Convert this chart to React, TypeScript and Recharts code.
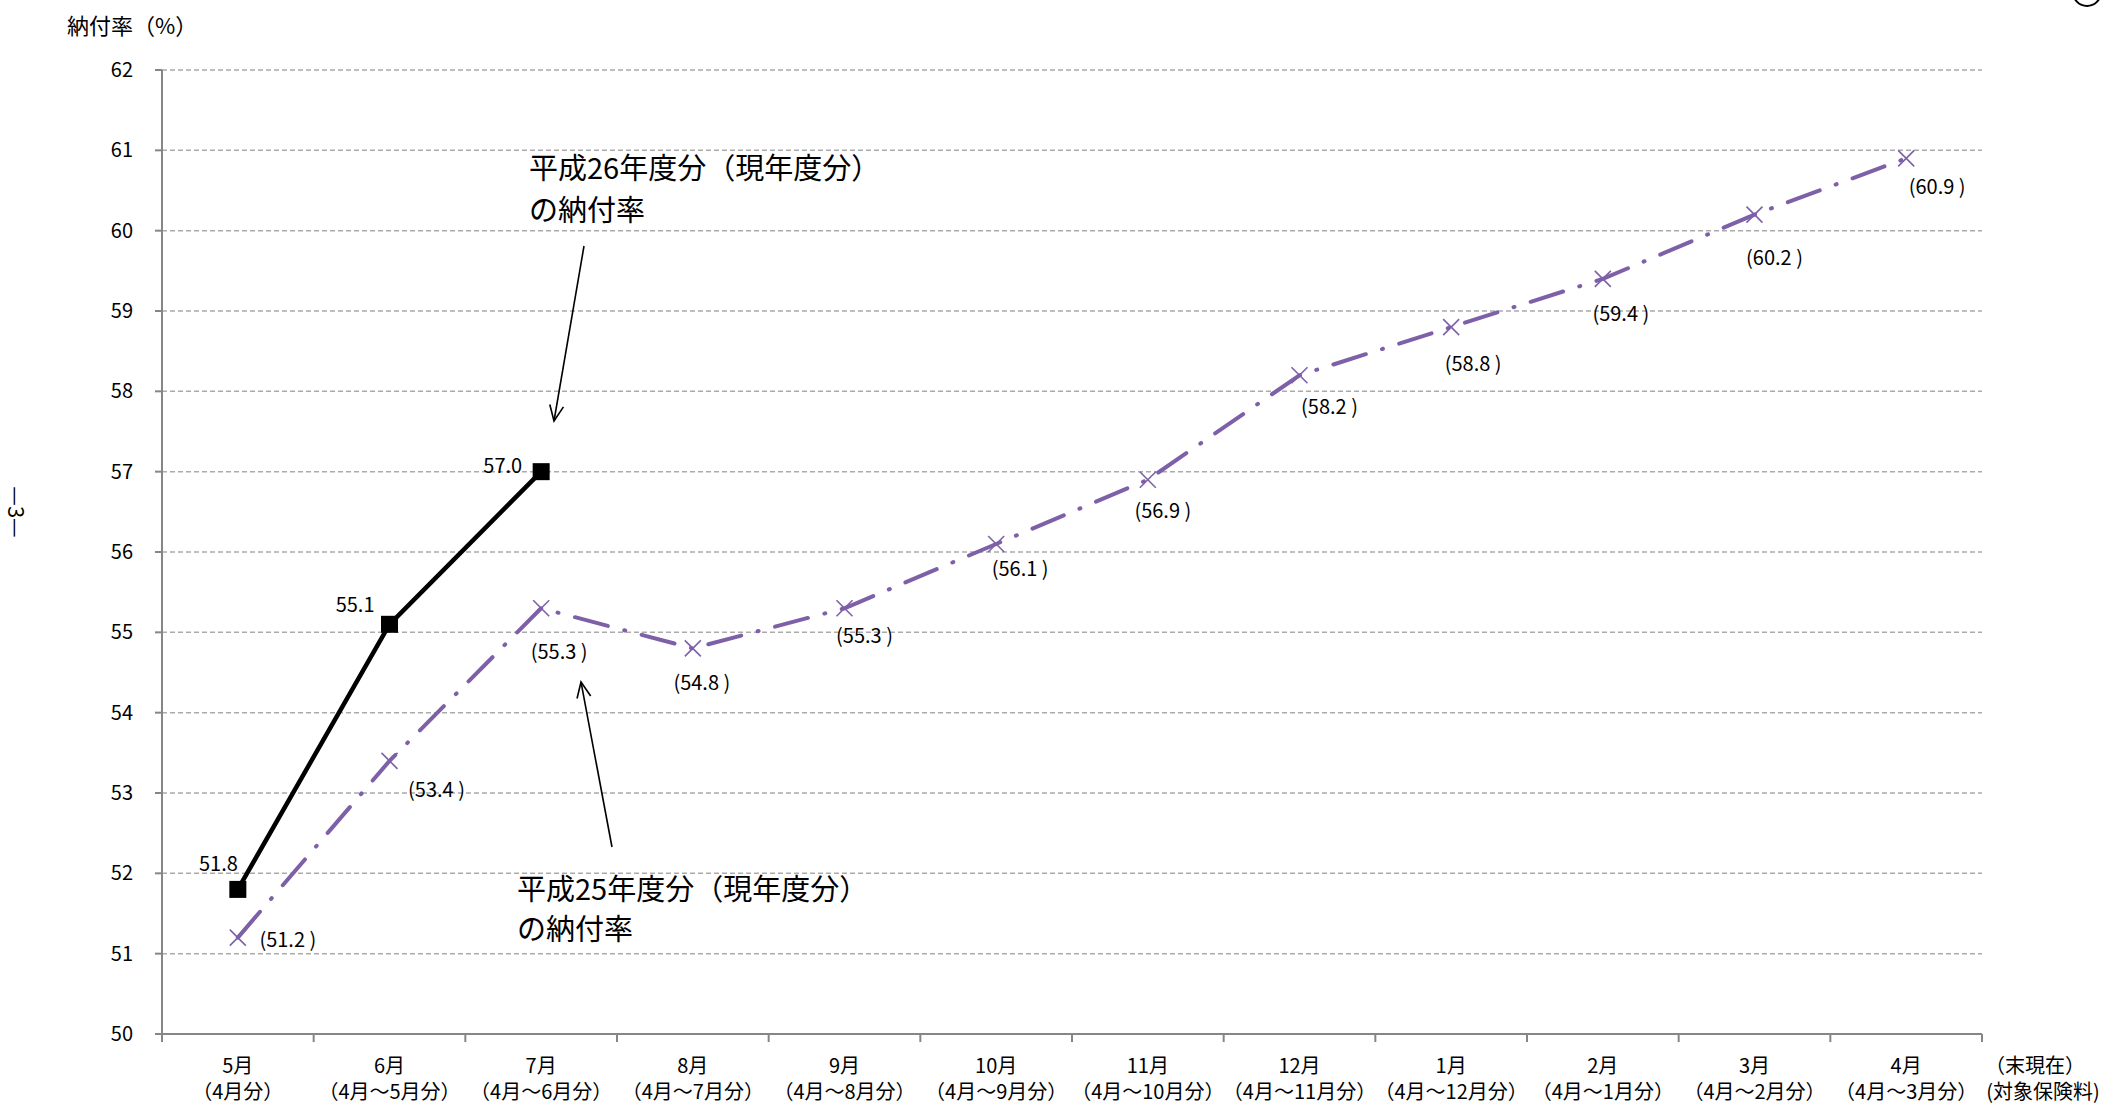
import React from 'react';
import { LineChart, Line, XAxis, YAxis, CartesianGrid } from 'recharts';

// month the rate is measured at, and the months of premium it covers
const MONTHS = ['5月', '6月', '7月', '8月', '9月', '10月', '11月', '12月', '1月', '2月', '3月', '4月'];
const PERIODS = [
  '（4月分）', '（4月～5月分）', '（4月～6月分）', '（4月～7月分）', '（4月～8月分）', '（4月～9月分）',
  '（4月～10月分）', '（4月～11月分）', '（4月～12月分）', '（4月～1月分）', '（4月～2月分）', '（4月～3月分）',
];

// 平成26年度分 (so far) and 平成25年度分, in %
const H26_RATE = [51.8, 55.1, 57.0];
const H25_RATE = [51.2, 53.4, 55.3, 54.8, 55.3, 56.1, 56.9, 58.2, 58.8, 59.4, 60.2, 60.9];

const Y_TICKS = [50, 51, 52, 53, 54, 55, 56, 57, 58, 59, 60, 61, 62];

const W = 2125;
const H = 1105;
const LEFT = 162;
const RIGHT = 143;
const TOP = 70;
const XAXIS_H = 71;
const AXIS_Y = H - XAXIS_H;
const BAND = (W - LEFT - RIGHT) / MONTHS.length;

const FONT = '"Noto Sans CJK JP", "Noto Sans", sans-serif';
const PURPLE = '#7D60A8';
const AXIS = '#868686';

// small nudges so the value labels sit where the original had them
const H26_NUDGE = [[0, -27], [-15, -21], [-19, -7]];
const H25_NUDGE = [
  [50, 1], [47, 28], [18, 42], [9, 33], [20, 26], [24, 24],
  [15, 30], [30, 30], [22, 35], [18, 34], [20, 42], [31, 27],
];

const data = MONTHS.map((m, i) => ({
  month: m,
  period: PERIODS[i],
  h26: i < H26_RATE.length ? H26_RATE[i] : null,
  h25: H25_RATE[i],
}));

const SquareDot = (props: any) => {
  const { cx, cy, index } = props;
  if (cx == null || cy == null || props.value == null) return <g key={`s${index}`} />;
  return <rect key={`s${index}`} x={cx - 8.5} y={cy - 8.5} width={17} height={17} fill="#000" />;
};

const CrossDot = (props: any) => {
  const { cx, cy, index } = props;
  if (cx == null || cy == null) return <g key={`c${index}`} />;
  const r = 8;
  return (
    <g key={`c${index}`} stroke={PURPLE} strokeWidth={1.6}>
      <line x1={cx - r} y1={cy - r} x2={cx + r} y2={cy + r} />
      <line x1={cx - r} y1={cy + r} x2={cx + r} y2={cy - r} />
    </g>
  );
};

const H26Label = (props: any) => {
  const { x, y, value, index } = props;
  if (value == null || x == null) return null;
  const [dx, dy] = H26_NUDGE[index] || [0, -20];
  return (
    <text x={x + dx} y={y + dy} textAnchor="end" dominantBaseline="central" fontSize={20} fontFamily={FONT} fill="#000">
      {Number(value).toFixed(1)}
    </text>
  );
};

const H25Label = (props: any) => {
  const { x, y, value, index } = props;
  if (value == null || x == null) return null;
  const [dx, dy] = H25_NUDGE[index] || [20, 30];
  return (
    <text x={x + dx} y={y + dy} textAnchor="middle" dominantBaseline="central" fontSize={20} fontFamily={FONT} fill="#000">
      {`(${Number(value).toFixed(1)} )`}
    </text>
  );
};

const MonthTick = (props: any) => {
  const { x, payload } = props;
  const i = payload.index;
  const left = x - BAND / 2;
  return (
    <g>
      <line x1={left} y1={AXIS_Y} x2={left} y2={AXIS_Y + 8} stroke={AXIS} strokeWidth={2} />
      {i === MONTHS.length - 1 && (
        <line x1={x + BAND / 2} y1={AXIS_Y} x2={x + BAND / 2} y2={AXIS_Y + 8} stroke={AXIS} strokeWidth={2} />
      )}
      <text x={x} y={AXIS_Y + 30} textAnchor="middle" dominantBaseline="central" fontSize={20} fontFamily={FONT} fill="#000">
        {payload.value}
      </text>
      <text x={x} y={AXIS_Y + 56} textAnchor="middle" dominantBaseline="central" fontSize={20} fontFamily={FONT} fill="#000">
        {PERIODS[i]}
      </text>
    </g>
  );
};

const arrow = (x1: number, y1: number, x2: number, y2: number) => {
  const a = Math.atan2(y2 - y1, x2 - x1);
  const L = 17;
  const s = 0.42;
  const p1 = [x2 - L * Math.cos(a - s), y2 - L * Math.sin(a - s)];
  const p2 = [x2 - L * Math.cos(a + s), y2 - L * Math.sin(a + s)];
  return (
    <g stroke="#000" strokeWidth={1.6} fill="none">
      <line x1={x1} y1={y1} x2={x2} y2={y2} />
      <polyline points={`${p1[0]},${p1[1]} ${x2},${y2} ${p2[0]},${p2[1]}`} />
    </g>
  );
};

export default function App() {
  return (
    <div style={{ position: 'absolute', left: 0, top: 0, width: W, height: H, background: '#fff' }}>
      <LineChart width={W} height={H} data={data} margin={{ top: TOP, right: RIGHT, left: 0, bottom: 0 }}>
        <CartesianGrid vertical={false} stroke="#ABABAB" strokeWidth={1.5} strokeDasharray="5 3" />
        <XAxis
          dataKey="month"
          height={XAXIS_H}
          padding={{ left: BAND / 2, right: BAND / 2 }}
          axisLine={{ stroke: AXIS, strokeWidth: 2 }}
          tickLine={false}
          tick={<MonthTick />}
          interval={0}
        />
        <YAxis
          width={LEFT}
          domain={[50, 62]}
          ticks={Y_TICKS}
          interval={0}
          axisLine={{ stroke: AXIS, strokeWidth: 2 }}
          tickLine={{ stroke: AXIS, strokeWidth: 2 }}
          tickSize={7}
          tickMargin={22}
          tick={{ fontSize: 20, fontFamily: FONT, fill: '#000' }}
        />
        <Line
          dataKey="h25"
          stroke={PURPLE}
          strokeWidth={4}
          strokeDasharray="34 17 1 17"
          strokeLinecap="round"
          dot={CrossDot}
          label={H25Label}
          isAnimationActive={false}
        />
        <Line
          dataKey="h26"
          stroke="#000"
          strokeWidth={4.5}
          dot={SquareDot}
          label={H26Label}
          connectNulls={false}
          isAnimationActive={false}
        />
      </LineChart>
      <svg width={W} height={H} style={{ position: 'absolute', left: 0, top: 0, pointerEvents: 'none' }}>
        <text x={67} y={24} dominantBaseline="central" fontSize={22} fontFamily={FONT} fill="#000">納付率（%）</text>
        <text x={529} y={166} dominantBaseline="central" fontSize={29} fontFamily={FONT} fill="#000">平成26年度分（現年度分）</text>
        <text x={529} y={208} dominantBaseline="central" fontSize={29} fontFamily={FONT} fill="#000">の納付率</text>
        {arrow(584, 246, 554, 421)}
        <text x={517} y={887} dominantBaseline="central" fontSize={29} fontFamily={FONT} fill="#000">平成25年度分（現年度分）</text>
        <text x={517} y={927} dominantBaseline="central" fontSize={29} fontFamily={FONT} fill="#000">の納付率</text>
        {arrow(612, 847, 581, 682)}
        <text x={2035} y={AXIS_Y + 30} textAnchor="middle" dominantBaseline="central" fontSize={20} fontFamily={FONT} fill="#000">（末現在）</text>
        <text x={2043} y={AXIS_Y + 56} textAnchor="middle" dominantBaseline="central" fontSize={20} fontFamily={FONT} fill="#000">(対象保険料)</text>
        <text x={18} y={512} transform="rotate(90 18 512)" textAnchor="middle" dominantBaseline="central" fontSize={22} fontFamily={FONT} fill="#000">—3—</text>
        <circle cx={2087} cy={-8} r={14} fill="none" stroke="#000" strokeWidth={2} />
      </svg>
    </div>
  );
}
